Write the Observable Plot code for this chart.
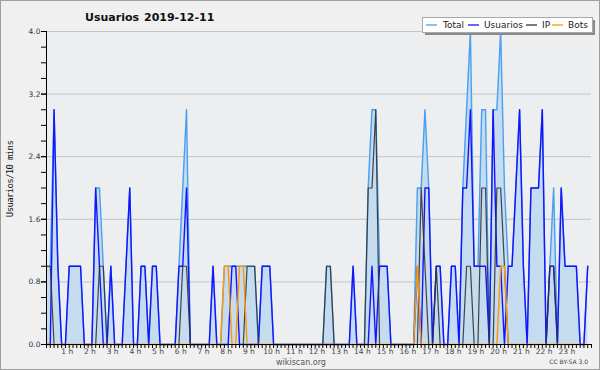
<!DOCTYPE html>
<html>
<head>
<meta charset="utf-8">
<script src="https://cdn.jsdelivr.net/npm/d3@7"></script>
<script src="https://cdn.jsdelivr.net/npm/@observablehq/plot@0.6"></script>
<style>
  html, body { margin: 0; padding: 0; background: #f0f0f0; }
  #chart { position: relative; width: 600px; height: 370px; }
</style>
</head>
<body>
<div id="chart"></div>
<script>
// ---- data (one value per 10-minute slot, 144 slots) ----
const total = [
  1,1,3,1,0,0,1,1,1,1, 0,0,0,2,2,1,0,1,0,0, 0,1,2,0,0,1,1,0,1,1,
  0,0,0,0,0,1,2,3,0,0, 0,0,0,0,1,0,0,1,1,1, 1,1,1,1,1,1,0,1,1,1,
  0,0,0,0,0,0,0,0,0,0, 0,0,0,0,1,1,0,0,0,0, 0,1,0,0,0,2,3,3,1,1,
  1,0,0,0,0,0,0,0,2,2, 3,2,0,1,1,0,0,1,1,0, 2,3,4,1,1,3,3,0,3,3,
  4,2,1,1,2,3,1,0,2,2, 2,3,0,1,2,0,2,1,1,1, 1,0,0,1
];
const usuarios = [
  0,0,3,1,0,0,1,1,1,1, 0,0,0,2,1,0,0,1,0,0, 0,1,2,0,0,1,1,0,1,1,
  0,0,0,0,0,1,1,2,0,0, 0,0,0,0,1,0,0,0,0,1, 1,0,0,0,0,0,0,1,1,1,
  0,0,0,0,0,0,0,0,0,0, 0,0,0,0,0,0,0,0,0,0, 0,1,0,0,0,0,1,0,1,1,
  1,0,0,0,0,0,0,0,1,0, 2,2,0,1,1,0,0,1,1,0, 2,2,3,1,1,1,1,0,3,1,
  1,0,1,1,2,3,1,0,2,2, 2,3,0,1,1,0,2,1,1,1, 1,0,0,1
];
const ip = [
  1,1,0,0,0,0,0,0,0,0, 0,0,0,0,1,1,0,0,0,0, 0,0,0,0,0,0,0,0,0,0,
  0,0,0,0,0,0,1,1,0,0, 0,0,0,0,0,0,0,0,0,0, 0,0,0,1,1,1,0,0,0,0,
  0,0,0,0,0,0,0,0,0,0, 0,0,0,0,1,1,0,0,0,0, 0,0,0,0,0,2,2,3,0,0,
  0,0,0,0,0,0,0,0,0,2, 1,0,0,1,0,0,0,0,0,0, 0,1,1,0,0,2,2,0,0,2,
  2,1,0,0,0,0,0,0,0,0, 0,0,0,1,1,0,0,0,0,0, 0,0,0,0
];
const bots = [
  0,0,0,0,0,0,0,0,0,0, 0,0,0,0,0,0,0,0,0,0, 0,0,0,0,0,0,0,0,0,0,
  0,0,0,0,0,0,0,0,0,0, 0,0,0,0,0,0,0,1,1,0, 0,1,1,0,0,0,0,0,0,0,
  0,0,0,0,0,0,0,0,0,0, 0,0,0,0,0,0,0,0,0,0, 0,0,0,0,0,0,0,0,0,0,
  0,0,0,0,0,0,0,0,1,0, 0,0,0,0,0,0,0,0,0,0, 0,0,0,0,0,0,0,0,0,0,
  1,1,0,0,0,0,0,0,0,0, 0,0,0,0,0,0,0,0,0,0, 0,0,0,0
];
const hourLabels = ["1 h","2 h","3 h","4 h","5 h","6 h","7 h","8 h","9 h","10 h","11 h","12 h",
  "13 h","14 h","15 h","16 h","17 h","18 h","19 h","20 h","21 h","22 h","23 h"];
const yLabelTicks = [0, 0.8, 1.6, 2.4, 3.2, 4.0];
const seriesNames = ["Total", "Usuarios", "IP", "Bots"];
const seriesColors = ["#47a0f0", "#1414ff", "#333333", "#ff9900"];
const titleText = "Usuarios";
const dateText = "2019-12-11";
const yTitle = "Usuarios/10 mins";

// ---- table ----
const rows = total.map((t, i) => ({slot: i, total: t, usuarios: usuarios[i], ip: ip[i], bots: bots[i]}));
const hourSlots = hourLabels.map((_, k) => (k + 1) * 6);
const minorY = d3.range(0, 21).map(k => k * 0.2);
const fmtHour = d => hourLabels[d / 6 - 1];

const chart = Plot.plot({
  width: 600,
  height: 370,
  marginLeft: 46,
  marginRight: 9,
  marginTop: 31,
  marginBottom: 26,
  style: {background: "transparent", fontFamily: "DejaVu Sans", overflow: "visible"},
  x: {domain: [0, 144], label: null},
  y: {domain: [0, 4], label: null},
  marks: [
    Plot.frame({fill: "#eceef0", stroke: null}),
    Plot.gridY(yLabelTicks, {stroke: "#c4c4c4", strokeOpacity: 1}),
    Plot.areaY(rows, {x: "slot", y: "total", fill: "#c5dbef"}),
    Plot.lineY(rows, {x: "slot", y: "total", stroke: seriesColors[0], strokeWidth: 1.4}),
    Plot.lineY(rows, {x: "slot", y: "usuarios", stroke: seriesColors[1], strokeWidth: 1.4}),
    Plot.lineY(rows, {x: "slot", y: "ip", stroke: seriesColors[2], strokeWidth: 1.2, strokeOpacity: 0.9}),
    Plot.lineY(rows, {x: "slot", y: "bots", stroke: seriesColors[3], strokeWidth: 1.4}),
    Plot.ruleY([0], {stroke: "#000"}),
    Plot.ruleX([0], {stroke: "#000"}),
    Plot.axisY({ticks: minorY, tickSize: 5, tickFormat: () => "", label: null}),
    Plot.axisY({ticks: yLabelTicks, tickSize: 5, tickPadding: 1, tickFormat: d3.format(".1f"), label: null,
      fontSize: 7.5, fill: "#333"}),
    Plot.axisX({ticks: d3.range(0, 145), tickSize: 4, tickFormat: () => "", label: null}),
    Plot.axisX({ticks: hourSlots, tickSize: 0, tickPadding: 4, tickFormat: fmtHour, label: null,
      fontSize: 7.5, fill: "#444", dx: -2})
  ]
});

document.getElementById("chart").appendChild(chart);

// ---- titles, legend, footer ----
const svg = d3.select(chart);
svg.insert("rect", ":first-child")
  .attr("x", 0.5).attr("y", 0.5).attr("width", 599).attr("height", 369)
  .attr("fill", "#f0f0f0").attr("stroke", "#a0a0a0");

const txt = (x, y, s, opts = {}) => svg.append("text")
  .attr("x", x).attr("y", y)
  .attr("text-anchor", opts.anchor || "start")
  .attr("font-family", opts.family || "DejaVu Sans")
  .attr("font-weight", opts.weight || "normal")
  .attr("font-size", opts.size || 9)
  .attr("fill", opts.fill || "#111")
  .text(s);

txt(85, 21, titleText, {weight: "bold", size: 11});
txt(144, 21, dateText, {weight: "bold", size: 11});

svg.append("text")
  .attr("transform", "translate(13,179) rotate(-90)")
  .attr("text-anchor", "middle")
  .attr("font-family", "DejaVu Sans Mono").attr("font-size", 9).attr("letter-spacing", -0.65)
  .attr("fill", "#111").text(yTitle);

// legend
svg.append("rect").attr("x", 425).attr("y", 20).attr("width", 170).attr("height", 15).attr("fill", "#8a8a8a");
svg.append("rect").attr("x", 422.5).attr("y", 17.5).attr("width", 170).attr("height", 15)
  .attr("fill", "#fff").attr("stroke", "#a8a8a8");
const items = [
  {line: 426, text: 443},
  {line: 468, text: 484},
  {line: 526, text: 542},
  {line: 552, text: 568}
];
items.forEach((it, k) => {
  svg.append("line").attr("x1", it.line).attr("x2", it.line + 11).attr("y1", 25).attr("y2", 25)
    .attr("stroke", seriesColors[k]).attr("stroke-width", 1.3);
  txt(it.text, 28.3, seriesNames[k], {size: 9, fill: "#222"});
});

txt(301, 364.5, "wikiscan.org", {anchor: "middle", size: 8, fill: "#555"});
txt(588, 364, "CC BY-SA 3.0", {anchor: "end", size: 6, fill: "#444"});
</script>
</body>
</html>
